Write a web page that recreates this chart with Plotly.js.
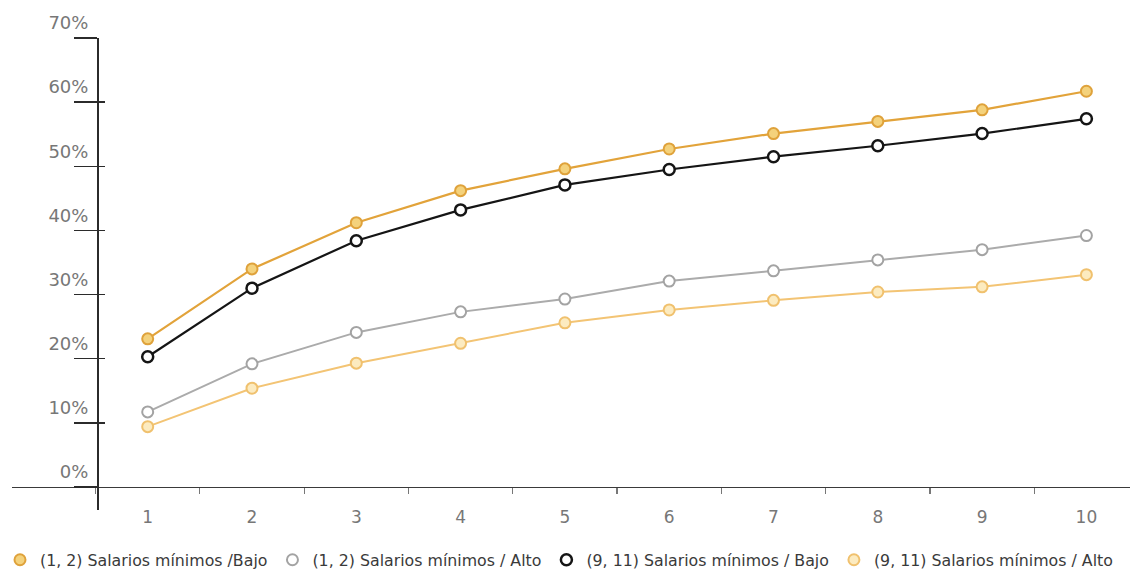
<!DOCTYPE html>
<html>
<head>
<meta charset="utf-8">
<script src="https://cdn.plot.ly/plotly-3.0.1.min.js"></script>
<style>html,body{margin:0;padding:0;background:#fff;}#chart{width:1130px;height:581px;}</style>
</head>
<body>
<div id="chart"></div>
<script>
// Categories (x) and series values (%)
const categories = [1, 2, 3, 4, 5, 6, 7, 8, 9, 10];
const bajo12  = [23.1, 34.0, 41.2, 46.2, 49.6, 52.7, 55.1, 57.0, 58.8, 61.7]; // (1, 2) Salarios mínimos /Bajo
const alto12  = [11.7, 19.2, 24.1, 27.3, 29.3, 32.1, 33.7, 35.4, 37.0, 39.2]; // (1, 2) Salarios mínimos / Alto
const bajo911 = [20.3, 31.0, 38.4, 43.2, 47.1, 49.5, 51.5, 53.2, 55.1, 57.4]; // (9, 11) Salarios mínimos / Bajo
const alto911 = [9.4, 15.4, 19.3, 22.4, 25.6, 27.6, 29.1, 30.4, 31.2, 33.1];  // (9, 11) Salarios mínimos / Alto
const seriesNames = [
  "(1, 2) Salarios mínimos /Bajo",
  "(1, 2) Salarios mínimos / Alto",
  "(9, 11) Salarios mínimos / Bajo",
  "(9, 11) Salarios mínimos / Alto"
];
const yTickVals = [0, 10, 20, 30, 40, 50, 60, 70];
const yTickText = ["0%", "10%", "20%", "30%", "40%", "50%", "60%", "70%"];

const styles = [
  {line: "#E2A33A", fill: "#F4D27C", edge: "#DFA23B", lw: 2.2, mw: 2},
  {line: "#ABABAB", fill: "#FFFFFF", edge: "#A3A3A3", lw: 2,   mw: 2},
  {line: "#151515", fill: "#FFFFFF", edge: "#151515", lw: 2.2, mw: 2.5},
  {line: "#F3C474", fill: "#FCEBC0", edge: "#F0C16E", lw: 2,   mw: 2}
];
const values = [bajo12, alto12, bajo911, alto911];

const traces = [];
values.forEach((v, i) => {
  traces.push({
    x: categories, y: v, type: "scatter", mode: "lines",
    line: {color: styles[i].line, width: styles[i].lw},
    showlegend: false, hoverinfo: "skip"
  });
});
values.forEach((v, i) => {
  traces.push({
    x: categories, y: v, type: "scatter", mode: "markers", name: seriesNames[i],
    marker: {symbol: "circle", size: 11, color: styles[i].fill,
             line: {color: styles[i].edge, width: styles[i].mw}},
    showlegend: true
  });
});
// empty helper trace so the inner tick axis is drawn
traces.push({x: [], y: [], type: "scatter", mode: "markers", yaxis: "y2", showlegend: false, hoverinfo: "skip"});

const yMin = -3.59, yMax = 70;
const layout = {
  width: 1130, height: 581,
  margin: {l: 12, r: 0, t: 38, b: 71},
  paper_bgcolor: "#fff", plot_bgcolor: "#fff",
  font: {family: "DejaVu Sans", color: "#777"},
  xaxis: {
    range: [-0.301, 10.418],
    anchor: "free", position: (0 - yMin) / (yMax - yMin),
    showline: true, linecolor: "#3a3a3a", linewidth: 1.5,
    showgrid: false, zeroline: false,
    tickmode: "array", tickvals: categories, ticktext: categories.map(String),
    ticks: "", ticklabelstandoff: 14,
    tickfont: {family: "DejaVu Sans", size: 17, color: "#777"},
    minor: {ticks: "outside", ticklen: 6, tickwidth: 1.2, tickcolor: "#777", tick0: 0.5, dtick: 1}
  },
  yaxis: {
    range: [yMin, yMax],
    anchor: "free", position: 85 / 1118,
    showline: true, linecolor: "#2b2b2b", linewidth: 1.5,
    showgrid: false, zeroline: false,
    tickmode: "array", tickvals: yTickVals, ticktext: yTickText,
    ticks: "outside", ticklen: 23, tickwidth: 1.5, tickcolor: "#2b2b2b",
    ticklabelstandoff: -18, ticklabelshift: -15,
    tickfont: {family: "DejaVu Sans", size: 18, color: "#777"}
  },
  yaxis2: {
    range: [yMin, yMax], overlaying: "y",
    anchor: "free", position: 85 / 1118,
    showline: false, showgrid: false, zeroline: false,
    tickmode: "array", tickvals: yTickVals.slice(1),
    ticks: "inside", ticklen: 7, tickwidth: 1.5, tickcolor: "#2b2b2b",
    showticklabels: false
  },
  legend: {
    orientation: "h", xref: "container", yref: "container",
    x: 0, y: 21 / 581, xanchor: "left", yanchor: "middle",
    font: {family: "DejaVu Sans", size: 15.8, color: "#3a3a3a"},
    bgcolor: "rgba(0,0,0,0)", itemwidth: 30, traceorder: "normal"
  },
  showlegend: true
};

Plotly.newPlot("chart", traces, layout, {displayModeBar: false, staticPlot: true});
</script>
</body>
</html>
